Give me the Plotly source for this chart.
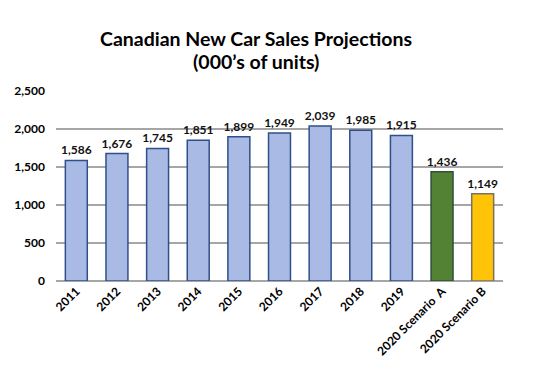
import plotly.graph_objects as go

categories = ["2011", "2012", "2013", "2014", "2015", "2016", "2017", "2018", "2019",
              "2020 Scenario  A", "2020 Scenario B"]
sales = [1586, 1676, 1745, 1851, 1899, 1949, 2039, 1985, 1915, 1436, 1149]
bar_colors = ["#a9bbe4"] * 9 + ["#548235", "#ffc408"]
line_colors = ["#2f4f8a"] * 9 + ["#2f4f3a", "#7a7060"]
y_ticks = [0, 500, 1000, 1500, 2000, 2500]
title_lines = ["Canadian New Car Sales Projections", "(000’s of units)"]

FONT = "Lato"

fig = go.Figure()
fig.add_trace(go.Bar(
    x=categories, y=sales,
    marker=dict(color=bar_colors, line=dict(color=line_colors, width=1.5)),
    text=[f"{v:,}" for v in sales], textposition="outside",
    constraintext="none",
    textfont=dict(family=FONT, size=12, color="#111111", weight="bold"),
    cliponaxis=False,
))
for txt, yp in zip(title_lines, [1.274, 1.153]):
    fig.add_annotation(text=f"<b>{txt}</b>", xref="paper", yref="paper",
                       x=(256 - 56) / 447, y=yp, xanchor="center", yanchor="middle",
                       showarrow=False, font=dict(family=FONT, size=19.5, color="black"))
fig.update_layout(
    width=526, height=370,
    margin=dict(l=48, r=31, t=83, b=97, autoexpand=False),
    paper_bgcolor="white", plot_bgcolor="white",
    bargap=0.46,
    showlegend=False,
    font=dict(family=FONT, color="black"),
)
fig.update_yaxes(range=[0, 2500], tickvals=y_ticks, tickformat=",", automargin=False,
                 showgrid=True, gridcolor="#a6a6a6", gridwidth=2,
                 zeroline=True, zerolinecolor="#a6a6a6", zerolinewidth=2,
                 ticklabelstandoff=10,
                 tickfont=dict(size=12, weight="bold"), ticks="", showline=False)
fig.update_xaxes(tickangle=-45, tickfont=dict(size=12, weight="bold"), automargin=False,
                 showline=False, ticks="")
fig.write_html("out.html")
